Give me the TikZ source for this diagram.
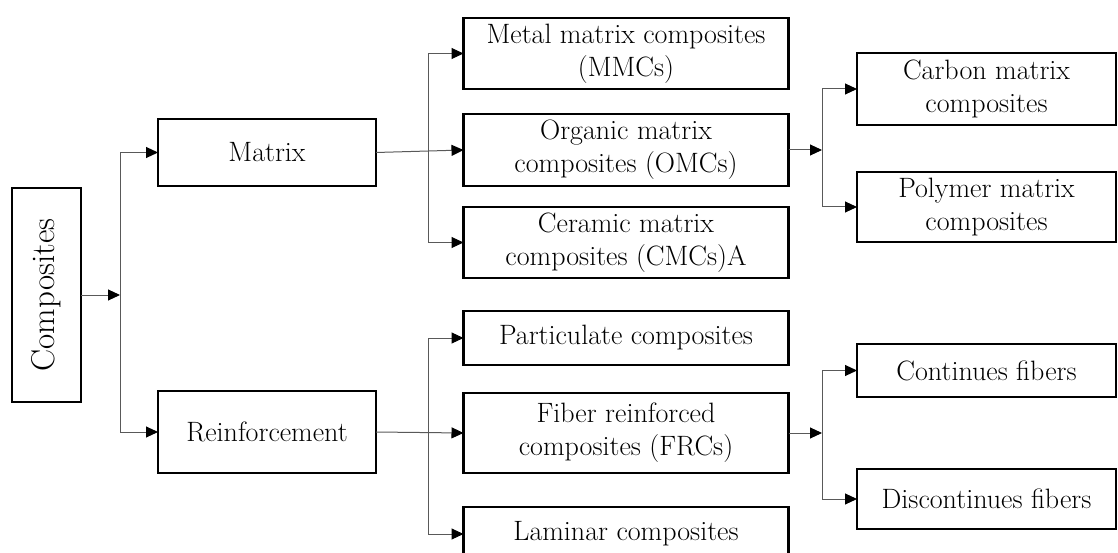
\documentclass[tikz,border=0pt]{standalone}
\usetikzlibrary{positioning,arrows.meta}

\begin{document}
\begin{tikzpicture}[
    x=1pt, y=-1pt,
    >={Triangle[length=12pt,width=11pt,color=black]},
    box/.style={rectangle,draw,line width=2.2pt,outer sep=0pt,inner sep=0pt,align=center,
        font=\fontsize{28}{33}\selectfont},
    midbox/.style={box,minimum width=325pt},
    endbox/.style={box,minimum width=259pt},
    link/.style={draw=black!65,line width=1pt},
    arrow/.style={link,->}
]
\useasboundingbox (0,0) rectangle (1118,553);

% main nodes
\node[box,rotate=90,minimum width=214pt,minimum height=69pt,font=\fontsize{33}{38}\selectfont] (comp) at (46.5,295) {Composites};
\node[box,minimum width=218pt,minimum height=67pt] (matrix) at (267,152.5) {Matrix};
\node[box,minimum width=218pt,minimum height=82pt,below=205pt of matrix] (reinf) {Reinforcement};

\node[midbox,minimum height=71pt] (mmc) at (626,53.5) {Metal matrix composites\\(MMCs)};
\node[midbox,minimum height=72pt,below=25pt of mmc] (omc) {Organic matrix\\composites (OMCs)};
\node[midbox,minimum height=71pt,below=21pt of omc] (cmc) {Ceramic matrix\\composites (CMCs)A};
\node[midbox,minimum height=54pt,below=33pt of cmc] (part) {Particulate composites};
\node[midbox,minimum height=80pt,below=28pt of part] (frc) {Fiber reinforced\\composites (FRCs)};
\node[midbox,minimum height=54pt,below=34pt of frc] (lam) {Laminar composites};

\node[endbox,minimum height=72pt] (carbon) at (986.5,89) {Carbon matrix\\composites};
\node[endbox,minimum height=70pt,below=47pt of carbon] (polymer) {Polymer matrix\\composites};
\node[endbox,minimum height=53pt] (cont) at (986.5,370.5) {Continues fibers};
\node[endbox,minimum height=60pt,below=72pt of cont] (discont) {Discontinues fibers};

% branch points
\coordinate (j0) at (120,295);
\coordinate (j1) at (428,0);
\coordinate (j2) at (822,0);

% connectors
\draw[arrow] (comp.south) -- (j0);
\draw[link] (j0 |- matrix.west) -- (j0 |- reinf.west);
\draw[arrow] (j0 |- matrix.west) -- (matrix.west);
\draw[arrow] (j0 |- reinf.west) -- (reinf.west);

\draw[arrow] (matrix.east) -- (omc.west);
\draw[link] (j1 |- mmc.west) -- (j1 |- cmc.west);
\draw[arrow] (j1 |- mmc.west) -- (mmc.west);
\draw[arrow] (j1 |- cmc.west) -- (cmc.west);

\draw[arrow] (reinf.east) -- (frc.west);
\draw[link] (j1 |- part.west) -- (j1 |- lam.west);
\draw[arrow] (j1 |- part.west) -- (part.west);
\draw[arrow] (j1 |- lam.west) -- (lam.west);

\draw[arrow] (omc.east) -- (j2 |- omc.east);
\draw[link] (j2 |- carbon.west) -- (j2 |- polymer.west);
\draw[arrow] (j2 |- carbon.west) -- (carbon.west);
\draw[arrow] (j2 |- polymer.west) -- (polymer.west);

\draw[arrow] (frc.east) -- (j2 |- frc.east);
\draw[link] (j2 |- cont.west) -- (j2 |- discont.west);
\draw[arrow] (j2 |- cont.west) -- (cont.west);
\draw[arrow] (j2 |- discont.west) -- (discont.west);

\end{tikzpicture}
\end{document}
